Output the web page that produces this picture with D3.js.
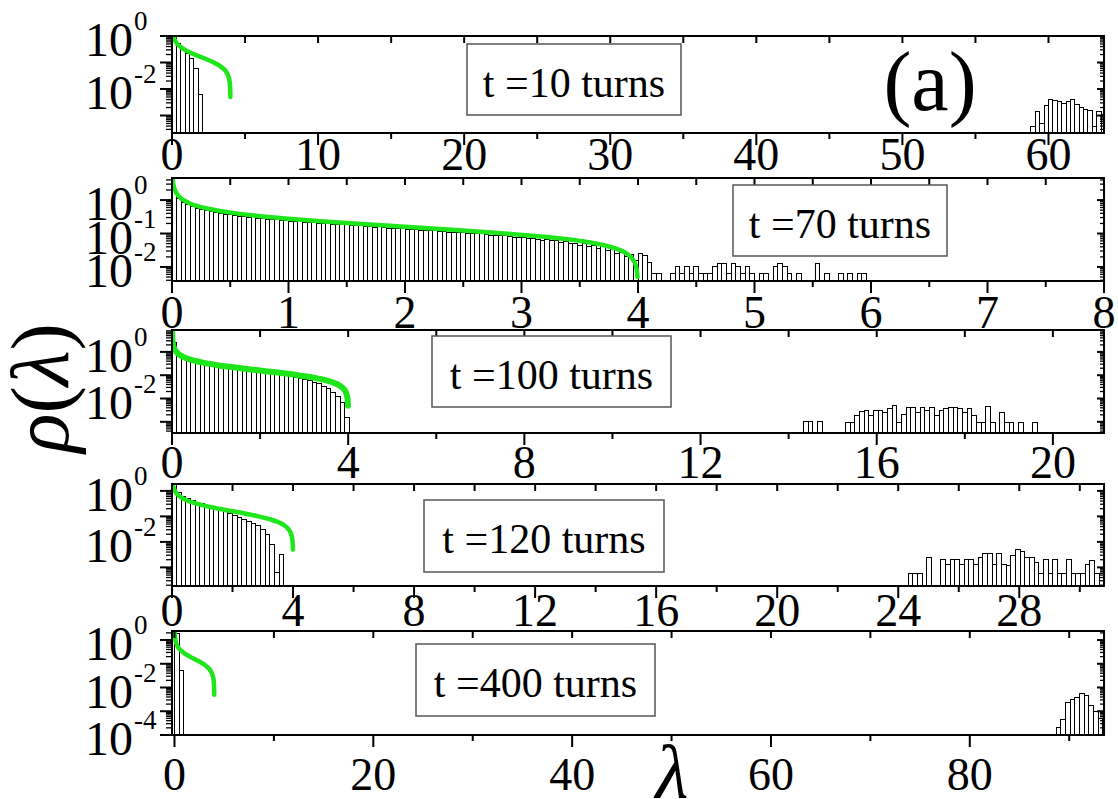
<!DOCTYPE html>
<html><head><meta charset="utf-8">
<script src="https://cdn.jsdelivr.net/npm/d3@7"></script>
<style>
body{margin:0;background:#fff}
svg{display:block}
svg text{font-family:'Liberation Serif','DejaVu Serif',Tinos,'Times New Roman',serif;fill:#000}
</style>
</head><body>
<svg id="c" width="1118" height="799" font-family="Liberation Serif, DejaVu Serif, serif"></svg>
<script>
// ---------------- DATA ----------------
// Green curve (theoretical density)
const curveLambda = [0.002,0.005,0.01,0.02,0.04,0.07,0.1,0.15,0.2,0.3,0.4,0.5,0.7,1.0,1.3,1.6,2.0,2.4,2.8,3.2,3.5,3.7,3.8,3.9,3.95,3.98,3.99,3.996];
const curveRho    = [7.12,4.5,3.18,2.25,1.58,1.19,0.994,0.806,0.694,0.559,0.477,0.421,0.346,0.276,0.229,0.195,0.159,0.130,0.104,0.0796,0.0602,0.0453,0.0365,0.0255,0.0179,0.0113,0.008,0.005];

// Panel labels
const panelLabels = ["t =10 turns","t =70 turns","t =100 turns","t =120 turns","t =400 turns"];

// t = 10 turns
const t10BinWidth = 0.3;
const t10Low = [0.9,0.54,0.35,0.22,0.145,0.06,0.0063];
const t10HighStart = 58.8;
const t10High = [3.8e-4,1.38e-3,5.0e-4,2.3e-3,4.1e-3,3.6e-3,3.3e-3,2.9e-3,3.5e-3,4.1e-3,2.7e-3,2.0e-3,1.7e-3,1.5e-3,3.8e-4,1.4e-3,1.05e-3];
const t10XTicks = [0,10,20,30,40,50,60];
const t10XMinor = [5,15,25,35,45,55];
const t10YLabels = [0,-2];

// t = 70 turns
const t70BinWidth = 0.04;
const t70Low = [1.9,1.1,0.85,0.72,0.63,0.57,0.52,0.5,0.45,0.42,
  0.40,0.38,0.37,0.35,0.33,0.32,0.31,0.35,0.29,0.28,
  0.27,0.26,0.26,0.25,0.24,0.235,0.23,0.255,0.22,0.21,
  0.21,0.205,0.2,0.195,0.19,0.185,0.18,0.18,0.175,0.17,
  0.19,0.165,0.16,0.155,0.175,0.15,0.145,0.145,0.14,0.14,
  0.135,0.13,0.13,0.125,0.125,0.12,0.12,0.115,0.115,0.11,
  0.11,0.105,0.105,0.1,0.1,0.1,0.11,0.095,0.09,0.09,
  0.085,0.085,0.08,0.078,0.077,0.075,0.07,0.072,0.068,0.06,
  0.064,0.06,0.062,0.055,0.057,0.05,0.052,0.045,0.05,0.042,
  0.045,0.036,0.04,0.032,0.035,0.025,0.028,0.02,0.024,0.016];
const t70HighStart = 4.0;
const t70High = [0.025,0.022,0.014,0.0063,0.0063,0,0,0.0063,0.01,0.0063,
  0.01,0.0063,0.01,0.0063,0.0063,0.0063,0.01,0.0126,0.0126,0.0063,
  0.0126,0.01,0.0063,0.01,0.0063,0,0.0063,0.0063,0,0.01,
  0.0126,0.01,0.0063,0,0.0063,0,0,0,0.0126,0,
  0.0063,0,0,0.0063,0,0.0063,0,0.0063,0.0063,0];
const t70XTicks = [0,1,2,3,4,5,6,7,8];
const t70XMinor = [0.5,1.5,2.5,3.5,4.5,5.5,6.5,7.5];
const t70YLabels = [0,-1,-2];

// t = 100 turns
const t100BinWidth = 0.106;
const t100Low = [2.5,0.75,0.58,0.50,0.43,0.39,0.35,0.31,0.29,0.27,
  0.25,0.235,0.22,0.205,0.195,0.18,0.17,0.16,0.15,0.14,
  0.13,0.125,0.115,0.105,0.098,0.09,0.082,0.074,0.065,0.058,
  0.05,0.042,0.034,0.026,0.019,0.012,0.0065,0.0016];
const t100HighStart = 14.34;
const t100High = [0.001,0.001,0,0.001,0,0,0,0,0,
  0.00098,0.00098,0.0019,0.0027,0.003,0.0019,0.003,0.003,0.0024,0.0036,
  0.0051,0.00098,0.0021,0.0043,0.0043,0.0024,0.0043,0.003,0.0043,0.0018,
  0.003,0.0039,0.0043,0.0043,0.0036,0.0025,0.0036,0.0018,0.00098,0.00098,
  0.0046,0.00098,0,0.0025,0.00098,0.00098,0,0.00098,0,0,0.00098];
const t100XTicks = [0,4,8,12,16,20];
const t100XMinor = [2,6,10,14,18];
const t100YLabels = [0,-2];

// t = 120 turns
const t120BinWidth = 0.154;
const t120Low = [1.78,0.89,0.63,0.51,0.43,0.36,0.31,0.27,0.23,0.20,0.17,0.15,0.126,0.107,0.091,0.076,0.063,0.051,0.042,0.032,0.020,0.0079,0.00063,0.0032];
const t120HighStart = 24.33;
const t120High = [0.0006,0.0006,0.0006,0,0.0025,0,0,0.002,0.00135,0.002,
  0.002,0.00135,0.002,0.002,0.00135,0.0025,0.0035,0.0035,0.00135,0.0035,
  0.00135,0.0012,0.003,0.0049,0.0042,0.0025,0.0025,0.0016,0.0006,0.0021,
  0.0006,0.0021,0.0006,0.0006,0.0021,0.0006,0.0006,0.0006,0.00135,0.0019,
  0.0006,0.0006];
const t120XTicks = [0,4,8,12,16,20,24,28];
const t120XMinor = [2,6,10,14,18,22,26,30];
const t120YLabels = [0,-2];

// t = 400 turns
const t400BinWidth = 0.4675;
const t400Low = [1.8,0.052];
const t400HighStart = 88.7;
const t400High = [2.1e-4,4.7e-4,2.4e-3,3.0e-3,3.7e-3,5.6e-3,4.8e-3,1.8e-3,1.0e-3,5.1e-4,2.1e-4];
const t400XTicks = [0,20,40,60,80];
const t400XMinor = [10,30,50,70,90];
const t400YLabels = [0,-2,-4];

// ---------------- LAYOUT ----------------
const X0 = 172, X1 = 1104;
const layouts = [
  {y0:36,  y1:133, xDom:[0,63.8],   logDom:[-3.66,0],    labBase:170, box:[467,44,681,115],  curveW:4.5},
  {y0:178, y1:281, xDom:[0,8],      logDom:[-2.42,0.66], labBase:328, box:[733,185,947,256], curveW:4.5},
  {y0:330, y1:433, xDom:[0,21.16],  logDom:[-3.48,0.94], labBase:478, box:[432,336,671,407], curveW:6},
  {y0:484, y1:586, xDom:[0,30.8],   logDom:[-3.73,0.27], labBase:626, box:[424,500,664,572], curveW:4.5},
  {y0:631, y1:735, xDom:[-0.25,93.5],logDom:[-4,0.38],   labBase:790, box:[416,644,655,716], curveW:4.5}
];
const series = [
  {w:t10BinWidth, low:t10Low, hs:t10HighStart, high:t10High, xt:t10XTicks, xm:t10XMinor, yl:t10YLabels},
  {w:t70BinWidth, low:t70Low, hs:t70HighStart, high:t70High, xt:t70XTicks, xm:t70XMinor, yl:t70YLabels},
  {w:t100BinWidth, low:t100Low, hs:t100HighStart, high:t100High, xt:t100XTicks, xm:t100XMinor, yl:t100YLabels},
  {w:t120BinWidth, low:t120Low, hs:t120HighStart, high:t120High, xt:t120XTicks, xm:t120XMinor, yl:t120YLabels},
  {w:t400BinWidth, low:t400Low, hs:t400HighStart, high:t400High, xt:t400XTicks, xm:t400XMinor, yl:t400YLabels}
];
const GREEN = "#1ee61a";
const FONT = "Liberation Serif, DejaVu Serif, serif";
const curvePts = curveLambda.map((l,i)=>[l,curveRho[i]]);

const svg = d3.select("#c");
const defs = svg.append("defs");
function txt(sel){ return sel.append("text").attr("font-family",FONT); }

layouts.forEach((L,i)=>{
  const S = series[i];
  const x = d3.scaleLinear().domain(L.xDom).range([X0,X1]);
  const y = d3.scaleLog().domain([Math.pow(10,L.logDom[0]),Math.pow(10,L.logDom[1])]).range([L.y1,L.y0]);
  const g = svg.append("g");
  const cid = "clip"+i;
  defs.append("clipPath").attr("id",cid).append("rect")
    .attr("x",X0).attr("y",L.y0).attr("width",X1-X0).attr("height",L.y1-L.y0);

  const bars = [];
  S.low.forEach((v,k)=>{ if(v>0) bars.push({s:k*S.w, v}); });
  S.high.forEach((v,k)=>{ if(v>0) bars.push({s:S.hs+k*S.w, v}); });

  const gb = g.append("g").attr("clip-path",`url(#${cid})`);
  gb.selectAll("rect").data(bars).join("rect")
    .attr("x",d=>x(d.s)).attr("width",d=>x(d.s+S.w)-x(d.s))
    .attr("y",d=>y(d.v)).attr("height",d=>L.y1-y(d.v))
    .attr("fill","#fff").attr("stroke","#000").attr("stroke-width",1)
    .attr("shape-rendering","crispEdges");

  const line = d3.line().x(d=>x(d[0])).y(d=>y(d[1])).curve(d3.curveMonotoneX);
  gb.append("path").datum(curvePts).attr("d",line)
    .attr("fill","none").attr("stroke",GREEN).attr("stroke-width",L.curveW)
    .attr("stroke-linecap","round");

  // frame
  g.append("rect").attr("x",X0).attr("y",L.y0).attr("width",X1-X0).attr("height",L.y1-L.y0)
    .attr("fill","none").attr("stroke","#000").attr("stroke-width",2);

  // x ticks
  const tk = g.append("g").attr("stroke","#000");
  S.xt.forEach(v=>{
    const xx = x(v);
    tk.append("line").attr("x1",xx).attr("x2",xx).attr("y1",L.y1).attr("y2",L.y1+12).attr("stroke-width",2);
    tk.append("line").attr("x1",xx).attr("x2",xx).attr("y1",L.y0).attr("y2",L.y0+7).attr("stroke-width",2);
  });
  S.xm.forEach(v=>{
    const xx = x(v);
    if(xx>X1) return;
    tk.append("line").attr("x1",xx).attr("x2",xx).attr("y1",L.y1).attr("y2",L.y1+6).attr("stroke-width",2);
    tk.append("line").attr("x1",xx).attr("x2",xx).attr("y1",L.y0).attr("y2",L.y0+7).attr("stroke-width",2);
  });
  // y ticks (log)
  for(let e=Math.floor(L.logDom[0]); e<=Math.ceil(L.logDom[1]); e++){
    for(let m=1;m<=9;m++){
      const v = m*Math.pow(10,e);
      const lv = Math.log10(v);
      if(lv < L.logDom[0]-1e-6 || lv > L.logDom[1]+1e-6) continue;
      const yy = y(v);
      const major = (m===1);
      tk.append("line").attr("x1",X0-(major?12:6)).attr("x2",X0).attr("y1",yy).attr("y2",yy).attr("stroke-width",major?2:1.3);
      tk.append("line").attr("x1",X1-(major?7:4)).attr("x2",X1).attr("y1",yy).attr("y2",yy).attr("stroke-width",major?2:1.3);
    }
  }
  // x tick labels
  S.xt.forEach(v=>{
    txt(g).attr("x",x(v)).attr("y",L.labBase).attr("text-anchor","middle").attr("font-size",46).text(v);
  });
  // y tick labels
  S.yl.forEach(e=>{
    const yy = y(Math.pow(10,e));
    txt(g).attr("x",133).attr("y",yy+20).attr("text-anchor","end").attr("font-size",48).text("10");
    txt(g).attr("x",134).attr("y",yy-6).attr("text-anchor","start").attr("font-size",27).text(String(e));
  });
  // legend box
  const b = L.box;
  g.append("rect").attr("x",b[0]).attr("y",b[1]).attr("width",b[2]-b[0]).attr("height",b[3]-b[1])
    .attr("fill","#fff").attr("stroke","#555").attr("stroke-width",1.5);
  txt(g).attr("x",(b[0]+b[2])/2).attr("y",b[1]+52.5).attr("text-anchor","middle")
    .attr("font-size",42).text(panelLabels[i]);
});

// annotation and axis titles
txt(svg).attr("x",930).attr("y",110).attr("text-anchor","middle").attr("font-size",84).text("(a)");
const yt = txt(svg).attr("transform","translate(68,388) rotate(-90)").attr("text-anchor","middle").attr("font-size",82);
yt.append("tspan").attr("font-style","italic").text("ρ");
yt.append("tspan").text("(");
yt.append("tspan").attr("font-style","italic").text("λ");
yt.append("tspan").text(")");
txt(svg).attr("x",672).attr("y",798).attr("text-anchor","middle").attr("font-size",76).attr("font-style","italic").text("λ");
</script>
</body></html>
